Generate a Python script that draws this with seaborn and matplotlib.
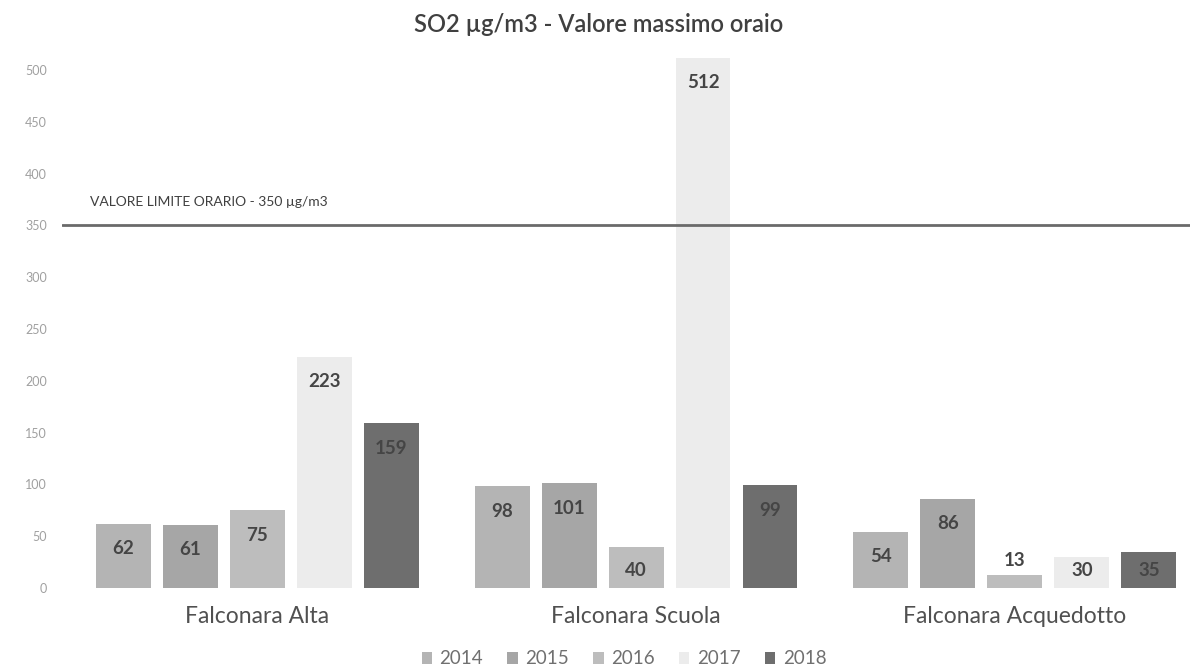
import matplotlib
matplotlib.use("Agg")
import matplotlib.pyplot as plt
import seaborn as sns
import pandas as pd
from matplotlib.patches import Patch

stations = ["Falconara Alta", "Falconara Scuola", "Falconara Acquedotto"]
years = ["2014", "2015", "2016", "2017", "2018"]
v2014 = [62, 98, 54]
v2015 = [61, 101, 86]
v2016 = [75, 40, 13]
v2017 = [223, 512, 30]
v2018 = [159, 99, 35]
limit_value = 350
limit_label = "VALORE LIMITE ORARIO - 350 µg/m3"
title = "SO2 µg/m3 - Valore massimo oraio"
yticks = [0, 50, 100, 150, 200, 250, 300, 350, 400, 450, 500]
colors = ["#b4b4b4", "#a6a6a6", "#bdbdbd", "#ececec", "#6e6e6e"]

series = [v2014, v2015, v2016, v2017, v2018]
rows = []
for y, vals in zip(years, series):
    for s, v in zip(stations, vals):
        rows.append({"station": s, "year": y, "value": v})
df = pd.DataFrame(rows)

sns.set_theme(style="white")
plt.rcParams["font.family"] = ["Lato", "DejaVu Sans"]

W, H = 1190, 670
fig = plt.figure(figsize=(W / 100, H / 100), dpi=100)
ax_left, ax_right, ax_bottom, ax_top = 62, 1190, 588, 39
ax = fig.add_axes([ax_left / W, (H - ax_bottom) / H, (ax_right - ax_left) / W, (ax_bottom - ax_top) / H])

sns.barplot(data=df, x="station", y="value", hue="year", order=stations, hue_order=years,
            palette=colors, width=0.884, gap=0.18, ax=ax, legend=False, saturation=1,
            edgecolor="none")

ax.set_ylim(0, 530)
ax.set_xlim(-0.515, 2.462)
ax.set_yticks(yticks)
ax.set_yticklabels([str(t) for t in yticks], fontsize=9, color="#a0a0a0")
ax.tick_params(axis="y", length=0, pad=11)
ax.tick_params(axis="x", length=0, pad=13, labelsize=16.5, labelcolor="#505050")
for sp in ax.spines.values():
    sp.set_visible(False)
ax.set_xlabel("")
ax.set_ylabel("")

# limit line
ax.axhline(limit_value, color="#6a6a6a", lw=2, zorder=3)
ax.text(-0.44, limit_value + 17, limit_label, fontsize=10, color="#404040", va="bottom", ha="left")

# data labels
for cont in ax.containers:
    for bar in cont:
        v = bar.get_height()
        xc = bar.get_x() + bar.get_width() / 2
        if v - 24 >= 17:
            yl = v - 24
        elif v >= 20:
            yl = 17
        else:
            yl = v + 14
        ax.text(xc, yl, f"{int(round(v))}", ha="center", va="center", fontsize=13.5,
                fontweight="bold", color="#454545", zorder=4)

fig.text(599 / W, 1 - 25 / H, title, ha="center", va="center",
         fontsize=17, fontweight="semibold", color="#404040")

handles = [Patch(facecolor=c, edgecolor="none") for c in colors]
leg = fig.legend(handles, years, loc="center", bbox_to_anchor=(624 / W, 1 - 659 / H),
                 ncol=5, frameon=False, fontsize=13.5, handlelength=0.55, handleheight=0.55,
                 columnspacing=1.3, handletextpad=0.4)
for t in leg.get_texts():
    t.set_color("#707070")

fig.savefig("out.png", dpi=100)
